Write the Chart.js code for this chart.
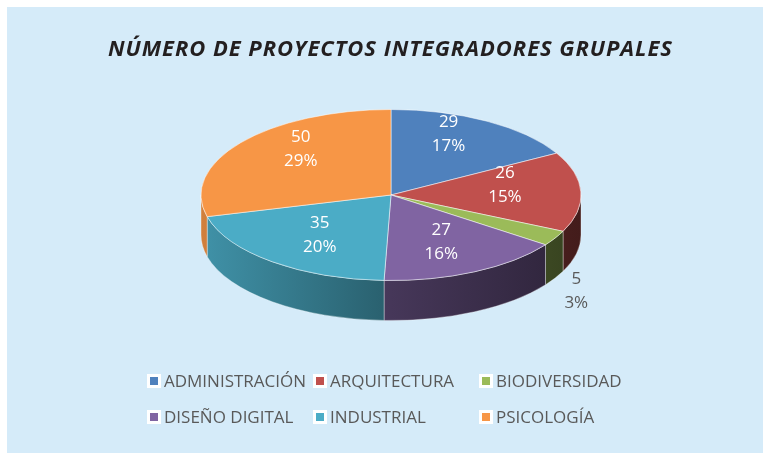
<!DOCTYPE html>
<html>
<head>
<meta charset="utf-8">
<script src="https://cdn.jsdelivr.net/npm/chart.js@4.4.0/dist/chart.umd.min.js"></script>
<style>
  html, body { margin: 0; padding: 0; background: #ffffff; }
  #wrap { position: absolute; left: 0; top: 0; width: 763px; height: 453px; }
</style>
</head>
<body>
<div id="wrap"><canvas id="projectsPie"></canvas></div>
<script>
// Chart data
const titleText = 'NÚMERO DE PROYECTOS INTEGRADORES GRUPALES';
const categories = ['ADMINISTRACIÓN', 'ARQUITECTURA', 'BIODIVERSIDAD', 'DISEÑO DIGITAL', 'INDUSTRIAL', 'PSICOLOGÍA'];
const projectCounts = [29, 26, 5, 27, 35, 50];
const sliceColors = ['#4f81bd', '#c0504d', '#9bbb59', '#8064a2', '#4bacc6', '#f79646'];

// Look of the fake 3D pie (screen placement of the ellipse)
const PIE = { cx: 391, cy: 195, tilt: 0.45, depth: 40 };

function shade(hex, f) {
    const n = parseInt(hex.slice(1), 16);
    const r = Math.round(((n >> 16) & 255) * f);
    const g = Math.round(((n >> 8) & 255) * f);
    const b = Math.round((n & 255) * f);
    return `rgb(${r}, ${g}, ${b})`;
}

const pie3d = {
    id: 'pie3d',
    beforeDraw(chart) {
        const ctx = chart.ctx;
        ctx.save();
        ctx.fillStyle = '#ffffff';
        ctx.fillRect(0, 0, chart.width, chart.height);
        ctx.fillStyle = '#d5ebf9';
        ctx.fillRect(7, 7, chart.width - 7, chart.height - 7);
        ctx.restore();
    },
    beforeDatasetsDraw(chart) {
        const ctx = chart.ctx;
        const arcs = chart.getDatasetMeta(0).data;
        const R = arcs[0].outerRadius;
        const { cx, cy, tilt, depth } = PIE;

        // side walls, only the front half (0..PI) is visible
        arcs.forEach((arc, i) => {
            const a = Math.max(arc.startAngle, 0);
            const b = Math.min(arc.endAngle, Math.PI);
            if (a >= b) return;
            const grad = ctx.createLinearGradient(cx - R, 0, cx + R, 0);
            grad.addColorStop(0, shade(sliceColors[i], 0.85));
            grad.addColorStop(0.5, shade(sliceColors[i], 0.55));
            grad.addColorStop(1, shade(sliceColors[i], 0.35));
            ctx.save();
            ctx.beginPath();
            ctx.ellipse(cx, cy, R, R * tilt, 0, a, b);
            ctx.ellipse(cx, cy + depth, R, R * tilt, 0, b, a, true);
            ctx.closePath();
            ctx.fillStyle = grad;
            ctx.fill();
            ctx.strokeStyle = 'rgba(255, 255, 255, 0.35)';
            ctx.lineWidth = 1;
            ctx.stroke();
            ctx.restore();
        });

        // squash the top faces into an ellipse
        ctx.save();
        ctx.translate(cx, cy);
        ctx.scale(1, tilt);
        ctx.translate(-arcs[0].x, -arcs[0].y);
    },
    afterDatasetsDraw(chart) {
        const ctx = chart.ctx;
        ctx.restore();

        const arcs = chart.getDatasetMeta(0).data;
        const R = arcs[0].outerRadius;
        const { cx, cy, tilt, depth } = PIE;
        const total = projectCounts.reduce((s, v) => s + v, 0);

        // data labels
        ctx.save();
        ctx.font = '17px "Open Sans"';
        ctx.textAlign = 'center';
        ctx.textBaseline = 'middle';
        arcs.forEach((arc, i) => {
            const mid = (arc.startAngle + arc.endAngle) / 2;
            const pct = Math.round(projectCounts[i] / total * 100);
            let lx, ly;
            if (pct < 5) {
                lx = cx + R * 1.13 * Math.cos(mid);
                ly = cy + R * tilt * 1.13 * Math.sin(mid) + depth + 7;
                ctx.fillStyle = '#595959';
            } else {
                lx = cx + R * 0.6 * Math.cos(mid);
                ly = cy - 8 + R * tilt * 0.72 * Math.sin(mid);
                ctx.fillStyle = '#ffffff';
            }
            ctx.fillText(String(projectCounts[i]), lx, ly - 12);
            ctx.fillText(pct + '%', lx, ly + 12);
        });
        ctx.restore();
    },
    afterDraw(chart) {
        const ctx = chart.ctx;
        ctx.save();
        // title, spread to the width of the original
        ctx.font = 'italic bold 22px "Open Sans"';
        const w = ctx.measureText(titleText).width;
        ctx.letterSpacing = Math.max(0, (564 - w) / (titleText.length - 1)) + 'px';
        ctx.fillStyle = '#231f20';
        ctx.textAlign = 'left';
        ctx.textBaseline = 'middle';
        ctx.fillText(titleText, 108, 50);
        ctx.letterSpacing = '0px';

        // legend, 3 columns x 2 rows
        const colX = [147, 313, 479];
        const rowY = [381, 417];
        ctx.font = '17px "Open Sans"';
        ctx.textAlign = 'left';
        categories.forEach((name, i) => {
            const x = colX[i % 3];
            const y = rowY[Math.floor(i / 3)];
            ctx.fillStyle = '#ffffff';
            ctx.fillRect(x, y - 7, 14, 14);
            ctx.fillStyle = sliceColors[i];
            ctx.fillRect(x + 3, y - 4, 8, 8);
            ctx.fillStyle = '#595959';
            ctx.fillText(name, x + 17, y + 1);
        });
        ctx.restore();
    }
};

new Chart(document.getElementById('projectsPie'), {
    type: 'pie',
    data: {
        labels: categories,
        datasets: [{
            data: projectCounts,
            backgroundColor: sliceColors,
            borderColor: 'rgba(255, 255, 255, 0.7)',
            borderWidth: 1,
            radius: 190,
            clip: false
        }]
    },
    options: {
        responsive: true,
        maintainAspectRatio: false,
        animation: false,
        events: [],
        plugins: {
            legend: { display: false },
            tooltip: { enabled: false },
            title: { display: false }
        }
    },
    plugins: [pie3d]
});
</script>
</body>
</html>
